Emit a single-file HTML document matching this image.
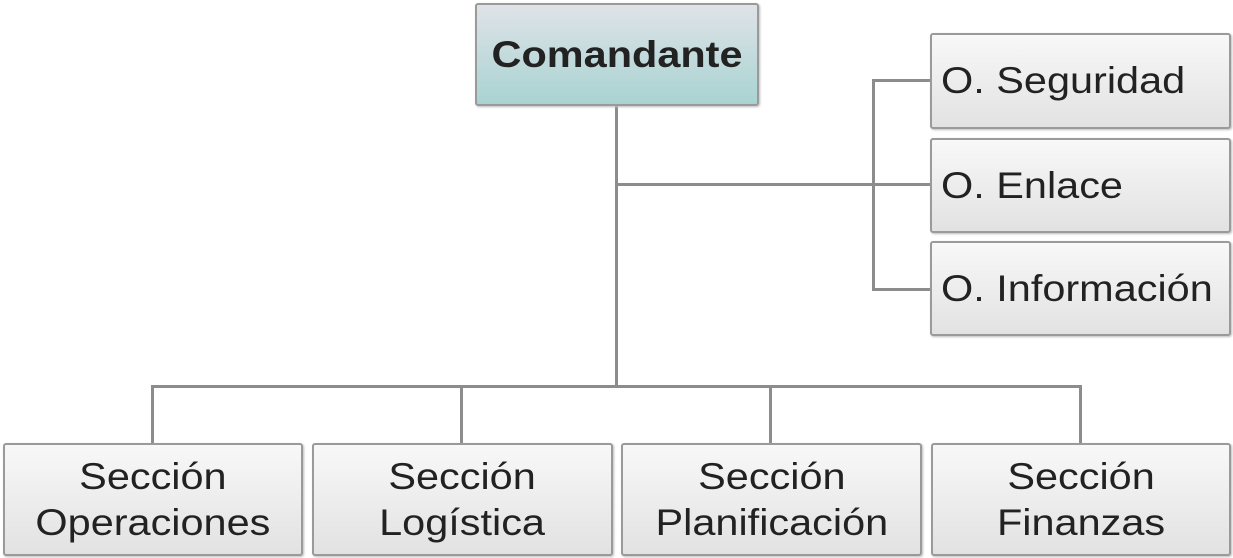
<!DOCTYPE html><html><head><style>
body{margin:0;width:1233px;height:558px;background:#fff;position:relative;overflow:hidden;font-family:"Liberation Sans",sans-serif;}
.b{position:absolute;box-sizing:border-box;border:2px solid #9a9a9a;border-radius:3px;background:linear-gradient(#f8f8f8,#e2e2e2);color:#222;display:flex;align-items:center;justify-content:center;text-align:center;font-size:37px;line-height:46px;box-shadow:1px 1px 2px #bbb;}
.b span{display:inline-block;transform:scaleX(1.12);}
.r span{transform-origin:left center;}
.l{position:absolute;background:#8c8c8c;}
</style></head><body>
<div class="l" style="left:615px;top:104px;width:3px;height:284px"></div>
<div class="l" style="left:151px;top:385px;width:931px;height:3px"></div>
<div class="l" style="left:151px;top:385px;width:3px;height:60px"></div>
<div class="l" style="left:460px;top:385px;width:3px;height:60px"></div>
<div class="l" style="left:769px;top:385px;width:3px;height:60px"></div>
<div class="l" style="left:1079px;top:385px;width:3px;height:60px"></div>
<div class="l" style="left:615px;top:183px;width:316px;height:3px"></div>
<div class="l" style="left:872px;top:79px;width:3px;height:212px"></div>
<div class="l" style="left:872px;top:79px;width:59px;height:3px"></div>
<div class="l" style="left:872px;top:288px;width:59px;height:3px"></div>
<div class="b" style="left:475px;top:3px;width:284px;height:103px;background:linear-gradient(#dfe3e8,#a9d3d2);font-weight:bold;"><span>Comandante</span></div>
<div class="b r" style="left:930px;top:33px;width:301px;height:96px;justify-content:flex-start;padding-left:9px"><span>O. Seguridad</span></div>
<div class="b r" style="left:930px;top:138px;width:301px;height:95px;justify-content:flex-start;padding-left:9px"><span>O. Enlace</span></div>
<div class="b r" style="left:930px;top:241px;width:301px;height:95px;justify-content:flex-start;padding-left:9px"><span>O. Información</span></div>
<div class="b" style="left:3px;top:443px;width:300px;height:113px"><span>Sección<br>Operaciones</span></div>
<div class="b" style="left:312px;top:443px;width:301px;height:113px"><span>Sección<br>Logística</span></div>
<div class="b" style="left:621px;top:443px;width:301px;height:113px"><span>Sección<br>Planificación</span></div>
<div class="b" style="left:931px;top:443px;width:300px;height:113px"><span>Sección<br>Finanzas</span></div>
</body></html>
